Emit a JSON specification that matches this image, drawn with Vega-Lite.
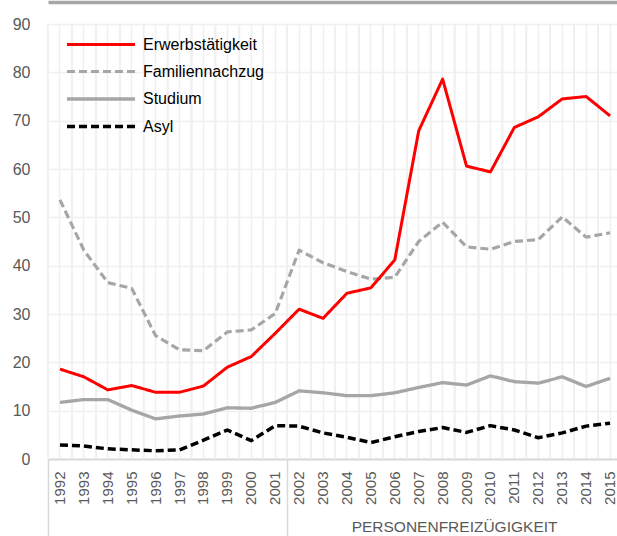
{
  "$schema": "https://vega.github.io/schema/vega-lite/v6.json",
  "width": 574,
  "height": 435,
  "autosize": {"type": "none"},
  "padding": {"left": 48, "top": 24, "right": -5, "bottom": 77},
  "config": {
    "font": "Liberation Sans",
    "view": {"stroke": null},
    "legend": {"padding": 0}
  },
  "datasets": {
    "main": [
      {"year": "1992", "series": "Asyl", "value": 2.9},
      {"year": "1993", "series": "Asyl", "value": 2.7},
      {"year": "1994", "series": "Asyl", "value": 2.1},
      {"year": "1995", "series": "Asyl", "value": 1.9},
      {"year": "1996", "series": "Asyl", "value": 1.7},
      {"year": "1997", "series": "Asyl", "value": 1.9},
      {"year": "1998", "series": "Asyl", "value": 3.9},
      {"year": "1999", "series": "Asyl", "value": 6.0},
      {"year": "2000", "series": "Asyl", "value": 3.8},
      {"year": "2001", "series": "Asyl", "value": 6.9},
      {"year": "2002", "series": "Asyl", "value": 6.8},
      {"year": "2003", "series": "Asyl", "value": 5.4},
      {"year": "2004", "series": "Asyl", "value": 4.5},
      {"year": "2005", "series": "Asyl", "value": 3.4},
      {"year": "2006", "series": "Asyl", "value": 4.6},
      {"year": "2007", "series": "Asyl", "value": 5.7},
      {"year": "2008", "series": "Asyl", "value": 6.5},
      {"year": "2009", "series": "Asyl", "value": 5.5},
      {"year": "2010", "series": "Asyl", "value": 6.9},
      {"year": "2011", "series": "Asyl", "value": 6.0},
      {"year": "2012", "series": "Asyl", "value": 4.4},
      {"year": "2013", "series": "Asyl", "value": 5.4},
      {"year": "2014", "series": "Asyl", "value": 6.8},
      {"year": "2015", "series": "Asyl", "value": 7.4},
      {"year": "1992", "series": "Studium", "value": 11.7},
      {"year": "1993", "series": "Studium", "value": 12.3},
      {"year": "1994", "series": "Studium", "value": 12.3},
      {"year": "1995", "series": "Studium", "value": 10.1},
      {"year": "1996", "series": "Studium", "value": 8.3},
      {"year": "1997", "series": "Studium", "value": 8.9},
      {"year": "1998", "series": "Studium", "value": 9.3},
      {"year": "1999", "series": "Studium", "value": 10.6},
      {"year": "2000", "series": "Studium", "value": 10.5},
      {"year": "2001", "series": "Studium", "value": 11.7},
      {"year": "2002", "series": "Studium", "value": 14.1},
      {"year": "2003", "series": "Studium", "value": 13.7},
      {"year": "2004", "series": "Studium", "value": 13.1},
      {"year": "2005", "series": "Studium", "value": 13.1},
      {"year": "2006", "series": "Studium", "value": 13.7},
      {"year": "2007", "series": "Studium", "value": 14.8},
      {"year": "2008", "series": "Studium", "value": 15.8},
      {"year": "2009", "series": "Studium", "value": 15.3},
      {"year": "2010", "series": "Studium", "value": 17.2},
      {"year": "2011", "series": "Studium", "value": 16.0},
      {"year": "2012", "series": "Studium", "value": 15.7},
      {"year": "2013", "series": "Studium", "value": 17.0},
      {"year": "2014", "series": "Studium", "value": 15.0},
      {"year": "2015", "series": "Studium", "value": 16.7},
      {"year": "1992", "series": "Familiennachzug", "value": 53.6},
      {"year": "1993", "series": "Familiennachzug", "value": 43.2},
      {"year": "1994", "series": "Familiennachzug", "value": 36.5},
      {"year": "1995", "series": "Familiennachzug", "value": 35.3},
      {"year": "1996", "series": "Familiennachzug", "value": 25.5},
      {"year": "1997", "series": "Familiennachzug", "value": 22.6},
      {"year": "1998", "series": "Familiennachzug", "value": 22.4},
      {"year": "1999", "series": "Familiennachzug", "value": 26.3},
      {"year": "2000", "series": "Familiennachzug", "value": 26.7},
      {"year": "2001", "series": "Familiennachzug", "value": 30.1},
      {"year": "2002", "series": "Familiennachzug", "value": 43.2},
      {"year": "2003", "series": "Familiennachzug", "value": 40.6},
      {"year": "2004", "series": "Familiennachzug", "value": 38.8},
      {"year": "2005", "series": "Familiennachzug", "value": 37.2},
      {"year": "2006", "series": "Familiennachzug", "value": 37.6},
      {"year": "2007", "series": "Familiennachzug", "value": 45.0},
      {"year": "2008", "series": "Familiennachzug", "value": 49.0},
      {"year": "2009", "series": "Familiennachzug", "value": 43.9},
      {"year": "2010", "series": "Familiennachzug", "value": 43.4},
      {"year": "2011", "series": "Familiennachzug", "value": 45.0},
      {"year": "2012", "series": "Familiennachzug", "value": 45.4},
      {"year": "2013", "series": "Familiennachzug", "value": 50.1},
      {"year": "2014", "series": "Familiennachzug", "value": 45.9},
      {"year": "2015", "series": "Familiennachzug", "value": 46.8},
      {"year": "1992", "series": "Erwerbstätigkeit", "value": 18.6},
      {"year": "1993", "series": "Erwerbstätigkeit", "value": 17.0},
      {"year": "1994", "series": "Erwerbstätigkeit", "value": 14.3},
      {"year": "1995", "series": "Erwerbstätigkeit", "value": 15.2},
      {"year": "1996", "series": "Erwerbstätigkeit", "value": 13.8},
      {"year": "1997", "series": "Erwerbstätigkeit", "value": 13.8},
      {"year": "1998", "series": "Erwerbstätigkeit", "value": 15.1},
      {"year": "1999", "series": "Erwerbstätigkeit", "value": 19.0},
      {"year": "2000", "series": "Erwerbstätigkeit", "value": 21.2},
      {"year": "2001", "series": "Erwerbstätigkeit", "value": 26.0},
      {"year": "2002", "series": "Erwerbstätigkeit", "value": 31.0},
      {"year": "2003", "series": "Erwerbstätigkeit", "value": 29.1},
      {"year": "2004", "series": "Erwerbstätigkeit", "value": 34.3},
      {"year": "2005", "series": "Erwerbstätigkeit", "value": 35.4},
      {"year": "2006", "series": "Erwerbstätigkeit", "value": 41.2},
      {"year": "2007", "series": "Erwerbstätigkeit", "value": 67.9},
      {"year": "2008", "series": "Erwerbstätigkeit", "value": 78.6},
      {"year": "2009", "series": "Erwerbstätigkeit", "value": 60.6},
      {"year": "2010", "series": "Erwerbstätigkeit", "value": 59.4},
      {"year": "2011", "series": "Erwerbstätigkeit", "value": 68.6},
      {"year": "2012", "series": "Erwerbstätigkeit", "value": 70.8},
      {"year": "2013", "series": "Erwerbstätigkeit", "value": 74.5},
      {"year": "2014", "series": "Erwerbstätigkeit", "value": 75.0},
      {"year": "2015", "series": "Erwerbstätigkeit", "value": 71.0}
    ]
  },
  "resolve": {"axis": {"x": "independent"}},
  "layer": [
    {
      "data": {"name": "main"},
      "mark": {"type": "rule", "color": "#f0f0f0", "strokeWidth": 1.5},
      "encoding": {
        "x": {
          "field": "year",
          "type": "ordinal",
          "bandPosition": 0,
          "scale": {"type": "band", "paddingInner": 0, "paddingOuter": 0},
          "axis": {
            "orient": "top",
            "offset": 22,
            "domain": true,
            "domainColor": "#a6a6a6",
            "domainWidth": 3.5,
            "ticks": false,
            "labels": false,
            "grid": false,
            "title": null
          }
        }
      }
    },
    {
      "data": {"values": [{"label": "PERSONENFREIZÜGIGKEIT", "year": "2009"}]},
      "mark": {"type": "text", "fontSize": 15.5, "color": "#595959", "align": "center", "baseline": "middle"},
      "encoding": {
        "x": {
          "field": "year",
          "type": "ordinal",
          "bandPosition": 0,
          "axis": {
            "orient": "bottom",
            "values": ["1992", "2002"],
            "bandPosition": 0,
            "domain": false,
            "labels": false,
            "grid": false,
            "ticks": true,
            "tickSize": 77,
            "tickColor": "#d9d9d9",
            "tickWidth": 1.5,
            "title": null
          }
        },
        "y": {"datum": -14.1, "type": "quantitative"},
        "text": {"field": "label"}
      }
    },
    {
      "data": {"name": "main"},
      "mark": {"type": "line", "strokeJoin": "round", "strokeCap": "butt"},
      "encoding": {
        "x": {
          "field": "year",
          "type": "ordinal",
          "bandPosition": 0.5,
          "axis": {
            "orient": "bottom",
            "labelAngle": -90,
            "labelPadding": 12,
            "ticks": false,
            "tickSize": 0,
            "domain": true,
            "domainColor": "#d9d9d9",
            "domainWidth": 2,
            "grid": true,
            "gridColor": "#f0f0f0",
            "gridWidth": 1.5,
            "labelFontSize": 15,
            "labelColor": "#595959",
            "title": null
          }
        },
        "y": {
          "field": "value",
          "type": "quantitative",
          "scale": {"domain": [0, 90], "nice": false},
          "axis": {
            "values": [0, 10, 20, 30, 40, 50, 60, 70, 80, 90],
            "domain": false,
            "ticks": false,
            "tickSize": 0,
            "labelPadding": 18,
            "labelFontSize": 16,
            "labelColor": "#595959",
            "grid": true,
            "gridColor": "#f0f0f0",
            "gridWidth": 1.5,
            "title": null
          }
        },
        "color": {
          "field": "series",
          "type": "nominal",
          "scale": {
            "domain": ["Erwerbstätigkeit", "Familiennachzug", "Studium", "Asyl"],
            "range": ["#ff0000", "#a6a6a6", "#a6a6a6", "#000000"]
          },
          "legend": {
            "title": null,
            "orient": "none",
            "legendX": 42.5,
            "legendY": 10.5,
            "symbolType": "M-4,0H4",
            "symbolSize": 289,
            "labelOffset": 31.5,
            "rowPadding": 8.5,
            "labelFontSize": 16,
            "labelColor": "#000000",
            "labelLimit": 300
          }
        },
        "strokeDash": {
          "field": "series",
          "type": "nominal",
          "scale": {
            "domain": ["Erwerbstätigkeit", "Familiennachzug", "Studium", "Asyl"],
            "range": [[1, 0], [8, 4], [1, 0], [8, 4]]
          },
          "legend": {"title": null}
        },
        "strokeWidth": {
          "field": "series",
          "type": "nominal",
          "scale": {
            "domain": ["Erwerbstätigkeit", "Familiennachzug", "Studium", "Asyl"],
            "range": [3, 3.5, 2.5, 3.5]
          },
          "legend": {"title": null}
        }
      }
    }
  ]
}
